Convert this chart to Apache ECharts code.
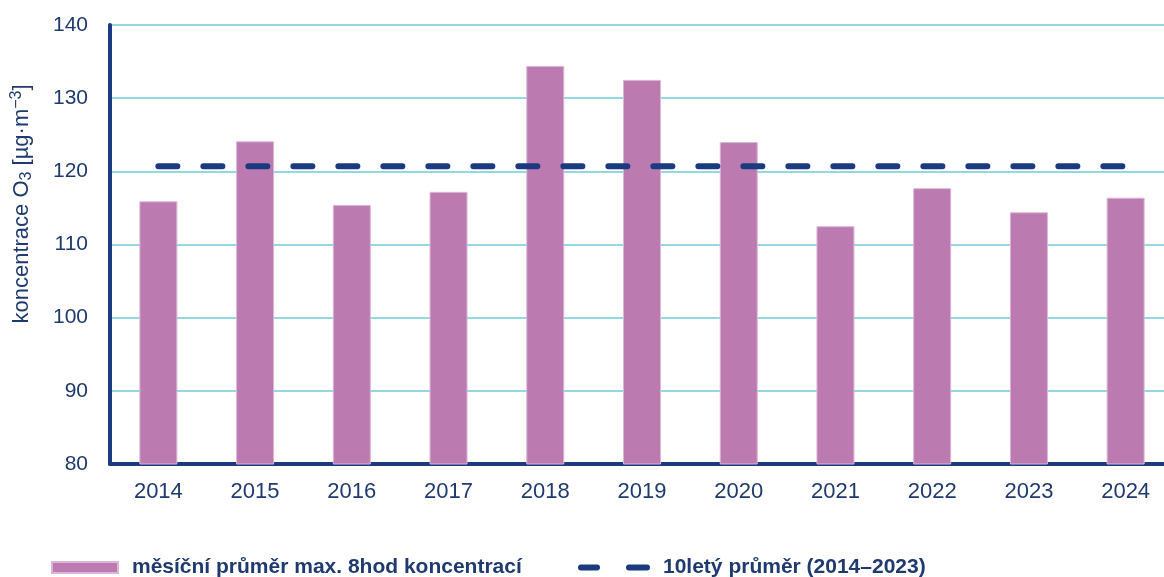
<!DOCTYPE html>
<html>
<head>
<meta charset="utf-8">
<script src="https://cdn.jsdelivr.net/npm/echarts@6/dist/echarts.min.js"></script>
<style>
  html, body { margin: 0; padding: 0; background: #fff; overflow: hidden; }
  #chart { width: 1180px; height: 577px; }
</style>
</head>
<body>
<div id="chart"></div>
<script>
const years = ['2014', '2015', '2016', '2017', '2018', '2019', '2020', '2021', '2022', '2023', '2024'];
const monthlyMax8h = [115.9, 124.1, 115.4, 117.2, 134.4, 132.5, 124.0, 112.5, 117.7, 114.4, 116.4];
const tenYearAvg = [120.7, 120.7, 120.7, 120.7, 120.7, 120.7, 120.7, 120.7, 120.7, 120.7, 120.7];
const barName = 'měsíční průměr max. 8hod koncentrací';
const lineName = '10letý průměr (2014–2023)';

const navy = '#1b3a80';
const textColor = '#1f3a6e';
const font = '"Liberation Sans", Arial, sans-serif';

const legendText = { fontFamily: font, fontWeight: 'bold', fontSize: 21, color: textColor };
// two rounded dashes for the average line legend
const dashIcon = 'path://M3,0H19A3,3 0 0 1 19,6H3A3,3 0 0 1 3,0ZM51,0H69A3,3 0 0 1 69,6H51A3,3 0 0 1 51,0Z';

const chart = echarts.init(document.getElementById('chart'));
chart.setOption({
  animation: false,
  textStyle: { fontFamily: font },
  grid: { left: 110, top: 25, width: 1064, height: 439, containLabel: false },
  legend: [
    {
      left: 46, top: 552,
      data: [{ name: barName, icon: 'rect' }],
      itemWidth: 66, itemHeight: 11,
      textStyle: Object.assign({ padding: [0, 0, 0, 9] }, legendText)
    },
    {
      left: 573, top: 552,
      data: [{ name: lineName, icon: dashIcon }],
      itemWidth: 72, itemHeight: 6,
      itemStyle: { color: navy },
      textStyle: Object.assign({ padding: [0, 0, 0, 8] }, legendText)
    }
  ],
  graphic: [
    {
      type: 'text',
      x: 9, y: 204,
      rotation: Math.PI / 2,
      style: {
        text: '{a|koncentrace O}{sub|3}{a| [µg·m}{sup|−3}{a|]}',
        align: 'center',
        verticalAlign: 'top',
        rich: {
          a: { fontSize: 22, lineHeight: 26, fill: textColor, fontFamily: font },
          sub: { fontSize: 16, lineHeight: 16, verticalAlign: 'bottom', fill: textColor, fontFamily: font },
          sup: { fontSize: 16, lineHeight: 16, verticalAlign: 'top', fill: textColor, fontFamily: font }
        }
      }
    }
  ],
  xAxis: {
    type: 'category',
    data: years,
    axisLine: { lineStyle: { color: navy, width: 4 } },
    axisTick: { show: false },
    axisLabel: { fontSize: 22, color: textColor, margin: 17 }
  },
  yAxis: {
    type: 'value',
    min: 80, max: 140, interval: 10,
    axisLine: { show: true, lineStyle: { color: navy, width: 4 } },
    axisTick: { show: false },
    axisLabel: { fontSize: 21, color: textColor, margin: 22 },
    splitLine: { lineStyle: { color: '#6fcbd8', width: 1.5 } }
  },
  series: [
    {
      name: barName,
      type: 'bar',
      data: monthlyMax8h,
      barWidth: 38,
      itemStyle: { color: '#bb7bb1', borderColor: '#dcb6d6', borderWidth: 1 }
    },
    {
      name: lineName,
      type: 'line',
      data: tenYearAvg,
      symbol: 'none',
      z: 3,
      lineStyle: { color: navy, width: 6, type: [19, 26], cap: 'round' },
      itemStyle: { color: navy }
    }
  ]
});
</script>
</body>
</html>
